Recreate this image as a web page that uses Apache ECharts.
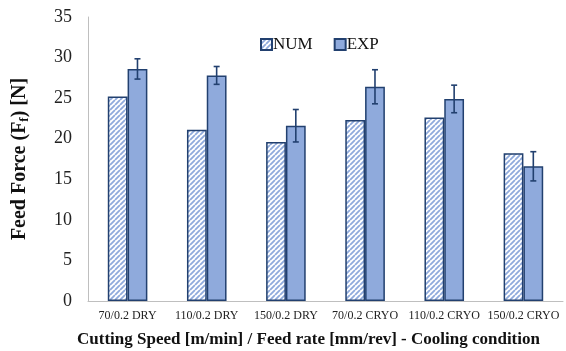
<!DOCTYPE html>
<html>
<head>
<meta charset="utf-8">
<script src="https://cdn.jsdelivr.net/npm/echarts@6/dist/echarts.min.js"></script>
<style>html,body{margin:0;padding:0;background:#fff}#c{width:566px;height:351px}</style>
</head>
<body>
<div id="c"></div>
<script>
const categories = ['70/0.2 DRY', '110/0.2 DRY', '150/0.2 DRY', '70/0.2 CRYO', '110/0.2 CRYO', '150/0.2 CRYO'];
const numValues = [25.2, 21.1, 19.6, 22.3, 22.6, 18.2];
const expValues = [28.6, 27.8, 21.6, 26.4, 24.9, 16.6];
const expErrors = [1.25, 1.1, 2.0, 2.1, 1.7, 1.8];
const yTicks = [0, 5, 10, 15, 20, 25, 30, 35];

const fillBlue = '#8faadc';
const edge = '#22406f';
const serif = '"Liberation Serif", "Times New Roman", serif';

function hatch() {
  const s = 5;
  const c = document.createElement('canvas');
  c.width = s; c.height = s;
  const g = c.getContext('2d');
  g.fillStyle = '#ffffff';
  g.fillRect(0, 0, s, s);
  g.strokeStyle = fillBlue;
  g.lineWidth = 1.8;
  g.beginPath();
  for (let k = -1; k <= 1; k++) {
    g.moveTo(k * s, s);
    g.lineTo(k * s + s, 0);
  }
  g.stroke();
  return c;
}
const hatchImg = hatch();

const chart = echarts.init(document.getElementById('c'), null, {renderer: 'canvas'});
chart.setOption({
  animation: false,
  textStyle: {fontFamily: serif},
  grid: {left: 88, right: 3, top: 17, bottom: 50, containLabel: false, outerBoundsMode: 'none'},
  legend: {
    data: ['NUM', 'EXP'],
    top: 31, left: 255,
    itemWidth: 11, itemHeight: 11, itemGap: 21,
    icon: 'rect',
    textStyle: {fontFamily: serif, fontSize: 17, color: '#111', padding: [0, 0, 0, -4]}
  },
  xAxis: {
    type: 'category',
    data: categories,
    axisLine: {lineStyle: {color: '#bfbfbf'}},
    axisTick: {show: false},
    axisLabel: {fontFamily: serif, fontSize: 12, color: '#222', margin: 9, interval: 0},
    name: 'Cutting Speed [m/min] / Feed rate [mm/rev] - Cooling condition',
    nameLocation: 'middle',
    nameGap: 30,
    nameTextStyle: {fontFamily: serif, fontSize: 17, fontWeight: 'bold', color: '#111', padding: [0, 34, 0, 0]}
  },
  yAxis: {
    type: 'value',
    min: yTicks[0], max: yTicks[yTicks.length - 1], interval: 5,
    axisLine: {show: true, lineStyle: {color: '#bfbfbf'}},
    axisTick: {show: false},
    splitLine: {show: false},
    axisLabel: {fontFamily: serif, fontSize: 18, color: '#222', margin: 16},
    name: '{n|Feed Force (F}{s|f}{n|) [N]}',
    nameLocation: 'middle',
    nameGap: 55,
    nameTextStyle: {
      rich: {
        n: {fontFamily: serif, fontSize: 20, fontWeight: 'bold', color: '#111', lineHeight: 26, verticalAlign: 'middle'},
        s: {fontFamily: serif, fontSize: 13, fontWeight: 'bold', color: '#111', lineHeight: 26, verticalAlign: 'bottom', padding: [0, 0, 2, 0]}
      }
    }
  },
  series: [
    {
      name: 'NUM', type: 'bar', data: numValues,
      barWidth: '25%', barGap: '0%',
      itemStyle: {color: {image: hatchImg, repeat: 'repeat'}, borderColor: edge, borderWidth: 1.5}
    },
    {
      name: 'EXP', type: 'bar', data: expValues,
      barWidth: '25%', barGap: '0%',
      itemStyle: {color: fillBlue, borderColor: edge, borderWidth: 1.5}
    },
    {
      name: 'err', type: 'custom',
      data: expValues.map((v, i) => [i, v - expErrors[i], v + expErrors[i]]),
      z: 10,
      renderItem: function (params, api) {
        const i = api.value(0);
        const lo = api.coord([i, api.value(1)]);
        const hi = api.coord([i, api.value(2)]);
        const bw = api.size([1, 0])[0];
        const x = lo[0] + bw * 0.125;
        const cap = 3;
        const st = {stroke: edge, lineWidth: 1.6};
        return {
          type: 'group',
          children: [
            {type: 'line', shape: {x1: x, y1: lo[1], x2: x, y2: hi[1]}, style: st},
            {type: 'line', shape: {x1: x - cap, y1: lo[1], x2: x + cap, y2: lo[1]}, style: st},
            {type: 'line', shape: {x1: x - cap, y1: hi[1], x2: x + cap, y2: hi[1]}, style: st}
          ]
        };
      }
    }
  ]
});
</script>
</body>
</html>
